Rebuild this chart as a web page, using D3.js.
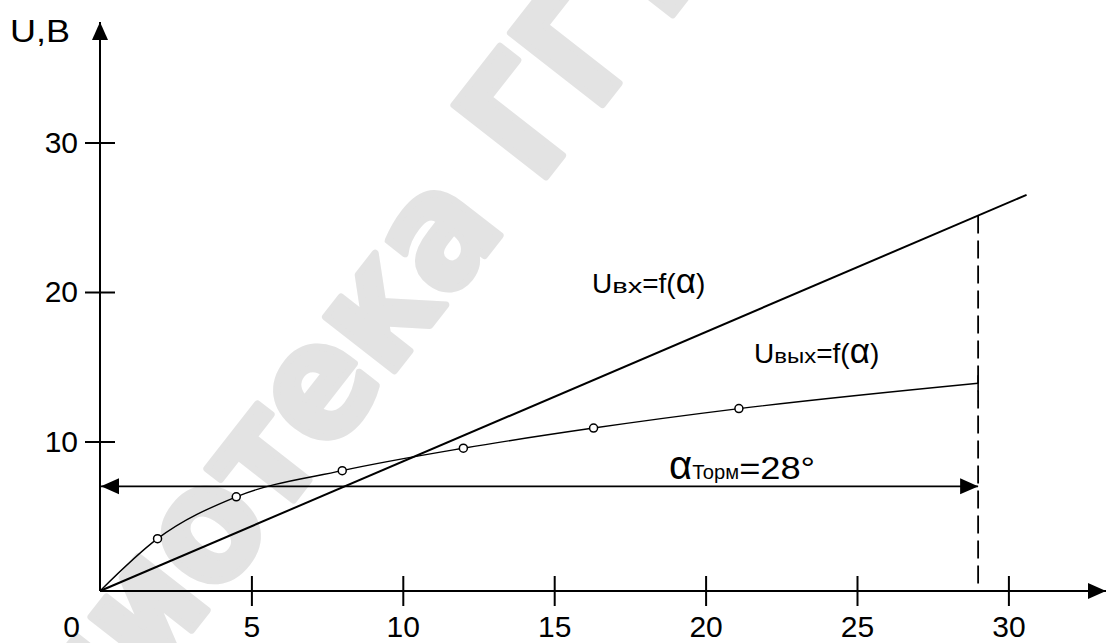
<!DOCTYPE html>
<html>
<head>
<meta charset="utf-8">
<script src="https://cdn.jsdelivr.net/npm/d3@7"></script>
<style>
  html, body { margin: 0; padding: 0; background: #fff; }
  svg { display: block; font-family: "Liberation Sans", Arial, sans-serif; }
</style>
</head>
<body>
<svg id="chart" width="1106" height="643"></svg>
<script>
// angle of rotation, degrees
const xTicks = [5, 10, 15, 20, 25, 30];
const yTicks = [10, 20, 30];

// U_in = f(alpha): straight line
const uInAlpha = [0, 30.6];
const uInValues = [0, 26.5];

// U_out = f(alpha): measured points (first and last have no marker)
const uOutAlpha = [0, 1.9, 4.5, 8.0, 12.0, 16.3, 21.1, 29];
const uOutValues = [0, 3.5, 6.3, 8.05, 9.55, 10.9, 12.2, 13.9];

const brakeAngle = 29;      // where the dashed line stands
const brakeArrowLevel = 7;  // height of the double arrow

const svg = d3.select("#chart");

const x = d3.scaleLinear().domain([0, 30]).range([100, 1008.4]);
const y = d3.scaleLinear().domain([0, 30]).range([591, 142.5]);

// watermark in the background
const wm = svg.append("g")
    .attr("transform", "translate(212,536) rotate(-52)");
const wmText = wm.append("text")
    .text("Библиотека ГГТУ")
    .attr("fill", "#e3e3e3")
    .attr("stroke", "#e3e3e3")
    .attr("stroke-width", 7)
    .attr("stroke-linejoin", "round")
    .style("font-family", "'Liberation Sans Narrow', 'DejaVu Sans Condensed', sans-serif")
    .style("font-weight", "bold")
    .style("font-size", "160px");
const ext = wmText.node().getExtentOfChar(5);
wmText.attr("x", -(ext.x + ext.width / 2)).attr("y", 42);

// arrow heads
const defs = svg.append("defs");
defs.append("marker")
    .attr("id", "arrow")
    .attr("viewBox", "0 0 18 18")
    .attr("refX", 18).attr("refY", 9)
    .attr("markerWidth", 18).attr("markerHeight", 18)
    .attr("markerUnits", "userSpaceOnUse")
    .attr("orient", "auto-start-reverse")
    .append("path").attr("d", "M0,1 L18,9 L0,17 Z").attr("fill", "#000");

// axes lines
svg.append("line")
    .attr("x1", x(0)).attr("y1", y(0))
    .attr("x2", 1106).attr("y2", y(0))
    .attr("stroke", "#000").attr("stroke-width", 2)
    .attr("marker-end", "url(#arrow)");
svg.append("line")
    .attr("x1", x(0)).attr("y1", y(0))
    .attr("x2", x(0)).attr("y2", 22)
    .attr("stroke", "#000").attr("stroke-width", 2)
    .attr("marker-end", "url(#arrow)");

const xAxis = svg.append("g")
    .attr("transform", `translate(0,${y(0) - 15})`)
    .call(d3.axisBottom(x).tickValues(xTicks).tickSize(30).tickPadding(10));
const yAxis = svg.append("g")
    .attr("transform", `translate(${x(0) + 15},0)`)
    .call(d3.axisLeft(y).tickValues(yTicks).tickSize(30).tickPadding(7));
[xAxis, yAxis].forEach(g => {
    g.select(".domain").remove();
    g.selectAll(".tick line").attr("stroke", "#000").attr("stroke-width", 2);
    g.selectAll(".tick text")
        .attr("fill", "#000")
        .style("font-size", "30px")
        .style("font-family", "'Liberation Sans', Arial, sans-serif");
});

svg.append("text").text("0")
    .attr("x", 71.5).attr("y", 637)
    .attr("text-anchor", "middle")
    .style("font-size", "30px");
svg.append("text").text("U,B")
    .attr("x", 10).attr("y", 42)
    .attr("textLength", 60).attr("lengthAdjust", "spacingAndGlyphs")
    .style("font-size", "31px");

// U_in line
const line = d3.line().x(d => x(d[0])).y(d => y(d[1]));
svg.append("path")
    .datum(d3.zip(uInAlpha, uInValues))
    .attr("d", line)
    .attr("fill", "none").attr("stroke", "#000").attr("stroke-width", 2);

// dashed vertical at braking angle
svg.append("line")
    .attr("x1", x(brakeAngle)).attr("x2", x(brakeAngle))
    .attr("y1", y(uInValues[1] / uInAlpha[1] * brakeAngle)).attr("y2", y(0))
    .attr("stroke", "#000").attr("stroke-width", 1.8)
    .attr("stroke-dasharray", "18,7");

// U_out curve
const outPts = d3.zip(uOutAlpha, uOutValues);
svg.append("path")
    .datum(outPts)
    .attr("d", line.curve(d3.curveMonotoneX))
    .attr("fill", "none").attr("stroke", "#000").attr("stroke-width", 1.4);

const last = outPts[outPts.length - 1];
svg.append("line")
    .attr("x1", x(last[0])).attr("x2", x(last[0]))
    .attr("y1", y(last[1]) - 8).attr("y2", y(last[1]) + 8)
    .attr("stroke", "#000").attr("stroke-width", 1.6);

svg.selectAll("circle.pt")
    .data(outPts.slice(1, -1))
    .join("circle")
    .attr("class", "pt")
    .attr("cx", d => x(d[0])).attr("cy", d => y(d[1]))
    .attr("r", 4)
    .attr("fill", "#fff").attr("stroke", "#000").attr("stroke-width", 1.5);

// double arrow for braking angle
svg.append("line")
    .attr("x1", x(0) + 1).attr("x2", x(brakeAngle))
    .attr("y1", y(brakeArrowLevel)).attr("y2", y(brakeArrowLevel))
    .attr("stroke", "#000").attr("stroke-width", 1.6)
    .attr("marker-start", "url(#arrow)")
    .attr("marker-end", "url(#arrow)");

// labels built from pieces of different sizes
function label(x0, y0, pieces) {
    let cx = x0;
    pieces.forEach(p => {
        const t = svg.append("text")
            .text(p.t)
            .attr("x", cx).attr("y", y0)
            .style("font-size", p.size + "px");
        if (p.w) t.attr("textLength", p.w).attr("lengthAdjust", "spacingAndGlyphs");
        cx += p.w || t.node().getComputedTextLength();
    });
}

label(592, 293, [
    { t: "U", size: 28 }, { t: "вх", size: 20, w: 30 },
    { t: "=f(", size: 28 }, { t: "α", size: 35 }, { t: ")", size: 28 }
]);
label(754, 363, [
    { t: "U", size: 28 }, { t: "вых", size: 20, w: 42 },
    { t: "=f(", size: 28 }, { t: "α", size: 35 }, { t: ")", size: 28 }
]);
label(669, 479, [
    { t: "α", size: 40 }, { t: "Торм", size: 21, w: 47 },
    { t: "=28°", size: 31, w: 76 }
]);
</script>
</body>
</html>
